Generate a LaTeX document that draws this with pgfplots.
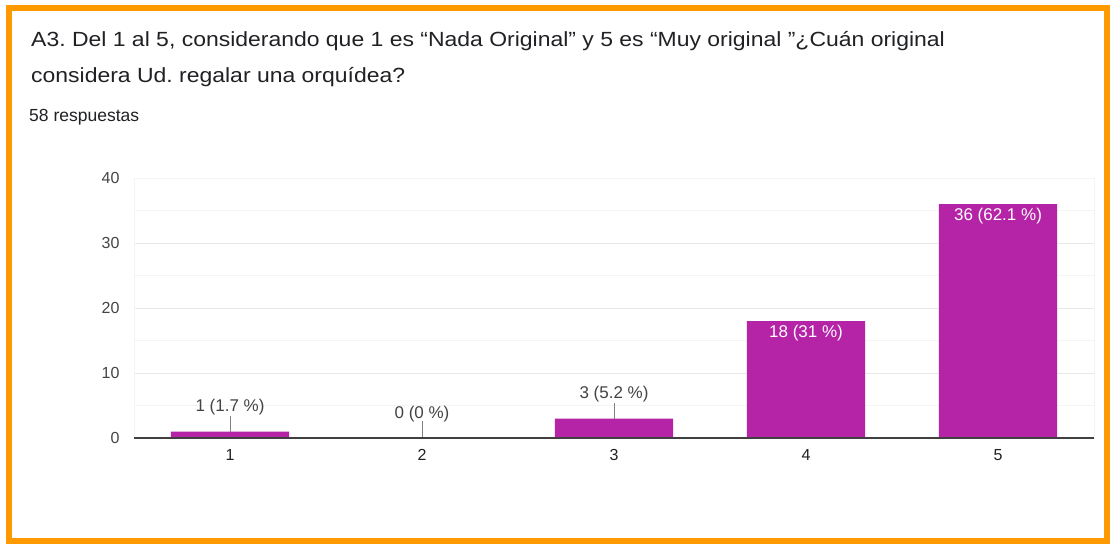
\documentclass[border=0pt]{standalone}
\usepackage{fontspec}
\setmainfont{Liberation Sans}
\newfontfamily\titlefont{Liberation Sans}[FakeStretch=1.12]
\usepackage{pgfplots}
\pgfplotsset{compat=1.18}
\usepackage{pgfplotstable}
\frenchspacing

\definecolor{frameorange}{RGB}{255,153,0}
\definecolor{barpurple}{RGB}{181,35,167}
\definecolor{titlegray}{RGB}{32,33,36}
\definecolor{labelgray}{RGB}{68,68,68}
\definecolor{gridmajor}{RGB}{232,232,232}
\definecolor{gridminor}{RGB}{244,244,244}

\pgfplotstableread{
x y lab
1 1 {1 (1.7 \%)}
2 0 {0 (0 \%)}
3 3 {3 (5.2 \%)}
}\lowbars
\pgfplotstableread{
x y lab
4 18 {18 (31 \%)}
5 36 {36 (62.1 \%)}
}\highbars

\begin{document}
\begin{tikzpicture}
\useasboundingbox (0,0) rectangle (1114pt,-545pt);
\fill[white] (0,0) rectangle (1114pt,-545pt);
\draw[frameorange, line width=6pt] (9pt,-8pt) rectangle (1107pt,-541pt);

% title block
\node[anchor=base west, inner sep=0, text=titlegray, font=\titlefont\fontsize{20.5}{24}\selectfont]
  at (31pt,-47pt) {A3. Del 1 al 5, considerando que 1 es “Nada Original” y 5 es “Muy original ”¿Cuán original};
\node[anchor=base west, inner sep=0, text=titlegray, font=\titlefont\fontsize{20.5}{24}\selectfont]
  at (31pt,-83pt) {considera Ud. regalar una orquídea?};
\node[anchor=base west, inner sep=0, text=titlegray, font=\fontsize{17.5}{20}\selectfont]
  at (29pt,-122pt) {58 respuestas};

\begin{axis}[
    at={(134pt,-438pt)}, anchor=south west,
    scale only axis,
    width=960pt, height=260pt,
    xmin=0.5, xmax=5.5, ymin=0, ymax=40,
    xtick={1,2,3,4,5}, ytick={0,10,20,30,40},
    minor ytick={5,15,25,35},
    ymajorgrids, yminorgrids,
    major grid style={gridmajor, line width=1pt},
    minor grid style={gridminor, line width=1pt},
    axis line style={draw=gridminor, line width=1pt},
    major tick length=0pt, minor tick length=0pt,
    tick style={draw=none},
    ticklabel style={font=\fontsize{16}{18}\selectfont, text=labelgray},
    yticklabel style={xshift=-11pt},
    xticklabel style={yshift=-8pt, text=titlegray},
    /pgf/number format/assume math mode=true,
    clip=false,
]
% low bars, labels above with leader lines
\addplot[ybar, bar width=0.615, fill=barpurple, draw=none,
    point meta=explicit symbolic,
    nodes near coords,
    nodes near coords style={anchor=center, yshift=24pt, text=labelgray,
        font=\fontsize{17}{19}\selectfont}]
  table[x=x, y=y, meta=lab] {\lowbars};
% high bars, labels inside in white
\addplot[ybar, bar width=0.615, fill=barpurple, draw=none,
    point meta=explicit symbolic,
    nodes near coords,
    nodes near coords style={anchor=center, yshift=-12pt, text=white,
        font=\fontsize{17}{19}\selectfont}]
  table[x=x, y=y, meta=lab] {\highbars};
% leader lines
\draw[gray, line width=1pt] (axis cs:1,1) -- ([yshift=16pt]axis cs:1,1);
\draw[gray, line width=1pt] (axis cs:2,0) -- ([yshift=17pt]axis cs:2,0);
\draw[gray, line width=1pt] (axis cs:3,3) -- ([yshift=16pt]axis cs:3,3);
% baseline
\draw[black!75, line width=1.5pt] (axis cs:0.5,0) -- (axis cs:5.5,0);
\end{axis}
\end{tikzpicture}
\end{document}
